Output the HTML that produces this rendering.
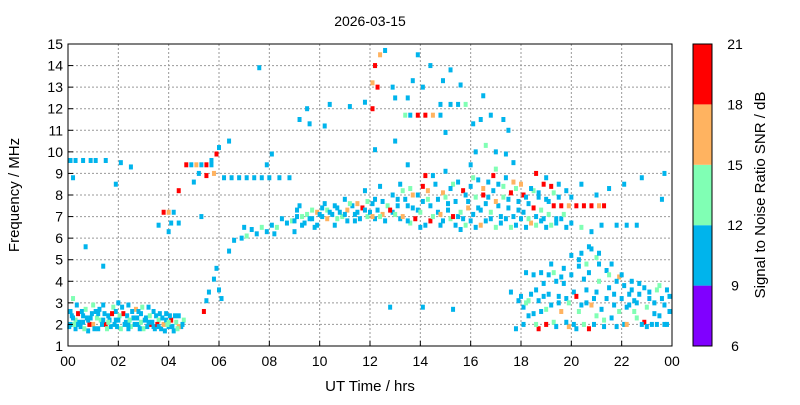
<!DOCTYPE html>
<html><head><meta charset="utf-8"><style>
body{margin:0;background:#fff;font-family:"Liberation Sans",sans-serif}
svg text{font-family:"Liberation Sans",sans-serif;fill:#000}
</style></head><body>
<svg id="c" width="800" height="400" xmlns="http://www.w3.org/2000/svg">
<rect width="800" height="400" fill="#fff"/>
<text x="370" y="26" font-size="14" text-anchor="middle">2026-03-15</text>
<g id="grid"></g><g id="marks"></g><g id="axes"></g>
<text x="370" y="391" font-size="15" text-anchor="middle">UT Time / hrs</text>
<text transform="translate(19,195) rotate(-90)" font-size="15" text-anchor="middle">Frequency / MHz</text>
<g id="cbar"></g>
<text transform="translate(765,195) rotate(-90)" font-size="15" text-anchor="middle">Signal to Noise Ratio SNR / dB</text>
</svg>
<script>
const xTicks=["00","02","04","06","08","10","12","14","16","18","20","22","00"];
const yTicks=[1,2,3,4,5,6,7,8,9,10,11,12,13,14,15];
const cbTicks=[6,9,12,15,18,21];
const cbColors=["#8000ff","#00b4ec","#80ffb4","#ffb360","#ff0000"];
// observations: "time_hrs freq_MHz snr_dB"
const obs=`0.1 2.0 10;0.1 2.6 11;0.2 3.2 13;0.3 1.8 10;0.3 2.2 12;0.4 2.5 19;0.5 1.9 11;0.6 2.1 10;0.7 2.7 13;0.8 1.7 11;0.9 2.3 10;1.0 2.0 16;1.1 2.6 11;1.2 1.8 10;1.3 2.2 12;1.4 2.9 11;1.5 2.0 19;1.6 2.4 10;1.7 1.9 11;1.8 2.8 13;1.9 2.2 10;2.0 3.0 11;2.1 1.8 12;2.2 2.5 19;2.3 2.1 10;2.4 2.9 11;2.5 1.9 13;2.6 2.3 10;2.7 2.7 16;2.8 2.0 11;2.9 2.5 10;3.0 1.8 12;3.1 2.3 11;3.2 2.8 10;3.3 2.0 19;3.4 1.9 11;3.5 2.4 10;3.6 2.2 13;3.7 1.8 11;3.8 2.0 16;3.9 2.5 10;4.0 1.9 11;4.1 2.2 19;4.2 1.7 10;4.3 2.1 13;4.4 2.4 11;4.5 1.9 10;4.6 2.2 12;0.2 2.3 11;0.6 2.4 10;1.0 2.9 12;1.4 2.2 11;1.9 2.6 10;2.4 2.0 11;2.9 2.1 12;3.4 2.6 11;3.9 2.2 10;4.4 1.9 16;0.1 9.6 10;0.3 9.6 11;0.6 9.6 10;0.9 9.6 10;1.1 9.6 11;1.5 9.6 10;2.1 9.5 10;2.5 9.3 11;0.2 8.8 10;0.7 5.6 10;1.4 4.7 11;1.9 8.5 10;3.6 6.6 10;3.8 7.2 19;4.0 7.2 16;4.2 7.2 10;4.1 6.7 11;4.4 6.7 10;4.0 6.3 11;4.4 8.2 19;4.7 9.4 19;4.9 9.4 11;5.1 9.4 16;5.3 9.4 10;5.5 9.4 19;5.2 9.0 11;5.5 8.9 19;5.8 9.0 16;5.7 9.4 11;5.9 9.9 19;6.0 10.2 10;6.4 10.5 11;5.0 8.6 11;5.3 7.0 10;5.5 3.1 11;5.4 2.6 19;5.6 3.5 10;5.8 4.1 11;6.0 3.6 10;5.9 4.6 11;6.1 3.2 10;5.7 9.6 10;6.2 8.8 11;6.5 8.8 10;6.8 8.8 11;7.1 8.8 10;7.4 8.8 11;7.7 8.8 10;8.0 8.8 11;8.4 8.8 10;8.8 8.8 11;7.6 13.9 10;7.9 9.4 11;8.1 9.9 10;6.4 5.4 11;6.6 5.9 10;6.9 6.0 11;7.1 6.1 13;7.3 6.4 10;7.5 6.2 11;7.7 6.5 13;7.9 6.3 10;8.1 6.6 11;8.3 6.5 13;8.5 6.9 10;8.7 6.7 11;8.9 6.8 13;9.1 7.0 10;9.3 6.6 11;9.5 7.1 13;9.7 6.9 10;9.9 7.2 16;10.1 7.0 11;10.3 7.3 13;10.5 7.1 10;10.7 7.4 11;10.9 7.0 13;11.1 7.3 16;11.3 7.5 10;11.5 7.2 11;11.7 7.4 19;11.9 7.0 13;12.1 7.6 10;12.3 7.3 11;12.5 7.1 16;12.7 7.5 13;12.9 7.2 10;7.0 6.5 10;8.2 6.2 11;9.0 6.3 10;9.8 6.5 11;10.6 6.6 10;11.4 6.8 11;12.2 6.9 10;9.2 7.5 11;10.2 7.6 10;11.0 7.8 11;11.8 8.2 10;12.4 8.4 11;9.2 11.5 10;9.6 11.3 11;10.2 11.2 10;9.5 12.0 11;10.4 12.2 10;11.2 12.1 11;11.8 12.3 10;12.1 12.0 19;12.1 13.2 16;12.2 14.0 19;12.4 14.5 16;12.6 14.7 11;12.9 13.0 10;13.0 12.5 11;12.3 13.0 19;13.4 11.7 13;13.6 11.7 11;13.9 11.7 19;14.2 11.7 19;14.5 11.7 16;14.8 11.7 11;13.5 12.5 10;13.7 13.3 11;14.1 13.0 10;14.8 12.2 11;15.2 12.2 10;15.5 12.2 11;15.8 12.2 13;14.9 13.3 11;15.2 13.8 10;15.6 13.1 11;16.1 11.3 10;16.4 11.5 11;16.8 11.7 10;17.3 11.5 11;17.5 11.0 10;16.2 10.0 11;16.6 10.3 13;17.0 10.0 10;17.4 9.9 11;17.7 9.5 10;13.1 7.8 11;13.3 8.2 13;13.5 7.5 10;13.7 8.0 16;13.9 7.3 11;14.1 8.4 19;14.3 7.8 13;14.5 8.9 10;14.7 7.2 11;14.9 8.1 16;15.1 7.6 10;15.3 8.5 13;15.5 7.0 11;15.7 8.2 19;15.9 7.7 10;16.1 8.8 13;16.3 7.4 11;16.5 8.3 16;16.7 7.9 10;16.9 8.9 19;17.1 7.5 11;17.3 8.4 13;17.5 7.8 10;17.7 8.6 16;17.9 7.3 11;18.1 8.0 19;18.3 7.6 10;18.5 8.2 13;18.7 7.9 11;18.9 8.5 19;19.1 7.7 10;19.3 8.1 13;13.2 6.9 11;13.6 6.7 13;14.0 6.5 10;14.4 6.8 19;14.8 6.6 11;15.2 6.9 13;15.6 6.4 10;16.0 6.8 11;16.4 6.6 16;16.8 6.9 10;17.2 6.7 11;17.6 6.5 13;18.0 6.9 10;18.4 6.7 16;18.8 6.8 11;19.2 6.6 13;19.6 6.9 10;20.0 6.7 11;20.4 6.5 13;20.8 6.3 10;21.2 6.6 11;21.8 6.6 10;22.2 6.6 11;22.6 6.6 10;14.2 8.9 19;15.0 9.1 11;16.0 9.4 10;17.0 9.2 13;18.6 9.0 19;19.0 8.8 11;19.5 8.5 10;20.0 7.9 11;20.4 8.5 10;21.0 8.0 11;21.5 8.3 10;22.1 8.5 10;22.8 8.8 11;23.6 7.8 10;23.7 9.0 10;19.3 7.5 19;19.6 7.5 19;19.9 7.5 16;20.2 7.5 19;20.5 7.5 19;20.8 7.5 19;21.1 7.5 16;21.3 7.5 19;17.6 3.5 11;17.9 3.1 10;18.1 2.0 11;18.3 3.1 13;18.5 2.5 10;18.7 1.8 19;18.9 3.3 11;19.1 4.3 10;19.3 2.1 13;19.5 3.0 11;19.7 4.6 10;19.9 1.9 16;20.1 3.5 11;20.3 2.6 13;20.5 4.1 10;20.7 1.8 19;20.9 3.2 11;21.1 4.8 10;21.3 2.2 13;21.5 3.7 11;21.7 2.9 10;21.9 4.2 16;22.1 2.0 11;22.3 3.4 10;22.5 2.6 13;22.7 3.9 11;22.9 2.1 19;23.1 3.2 10;23.3 2.5 11;23.5 3.8 13;23.7 2.9 10;23.9 3.3 11;18.2 4.4 10;18.6 3.6 11;19.0 2.7 13;19.4 4.0 11;19.8 3.2 10;20.2 1.8 11;20.6 3.0 10;21.0 2.4 13;21.4 4.5 10;21.8 1.9 11;22.2 2.8 10;22.6 3.0 11;23.0 1.9 10;23.4 2.0 11;23.8 2.0 10;20.4 5.3 10;20.8 5.5 11;21.0 5.1 13;19.6 4.2 11;18.8 4.4 10;17.8 1.8 10;12.8 2.8 10;14.1 2.8 11;15.3 2.7 10;13.5 9.4 10;12.2 10.1 11;13.0 10.5 10;15.0 10.9 11;16.5 12.6 10;14.4 14.0 10;13.9 14.5 11`;
const obs2=`0.05 1.9 11;0.15 2.4 10;0.25 2.0 13;0.35 2.9 11;0.45 2.1 10;0.55 2.6 11;0.65 1.8 13;0.75 2.3 10;0.85 2.0 19;0.95 2.5 11;1.05 1.8 10;1.15 2.3 13;1.25 2.7 11;1.35 2.0 10;1.45 2.5 11;1.55 1.8 13;1.65 2.2 10;1.75 2.5 19;1.85 2.0 11;1.95 1.9 10;2.05 2.4 13;2.15 2.8 11;2.25 2.0 10;2.35 2.4 11;2.45 2.2 13;2.55 2.6 10;2.65 2.0 11;2.75 2.3 10;2.85 1.8 11;2.95 2.8 13;3.05 2.2 10;3.15 1.9 11;3.25 2.4 13;3.35 2.1 10;3.45 1.8 11;3.55 2.0 19;3.65 2.5 10;3.75 2.3 11;3.85 1.7 10;3.95 2.0 13;4.05 2.4 11;4.15 1.9 10;4.25 2.4 11;4.35 1.8 13;4.55 2.0 10;0.4 2.0 10;0.8 2.2 11;1.2 2.5 10;1.6 2.1 13;2.0 2.2 11;2.4 1.8 10;2.8 2.6 11;3.2 2.1 10;3.6 1.9 11;4.0 2.1 13;
9.0 6.8 10;9.1 7.3 11;9.3 7.0 13;9.4 6.7 10;9.6 6.9 11;9.7 7.3 13;9.9 6.6 10;10.0 7.1 11;10.1 7.4 10;10.3 6.9 16;10.4 7.2 11;10.6 7.5 10;10.7 6.9 13;10.8 7.2 11;11.0 7.1 10;11.1 6.8 11;11.2 7.6 13;11.4 7.1 10;11.5 7.6 16;11.6 6.9 11;11.8 7.3 10;11.9 7.7 13;12.0 7.2 11;12.1 7.0 16;12.2 7.8 10;12.4 7.0 13;12.5 7.7 11;12.6 6.8 10;12.8 7.3 19;12.9 8.0 11;13.0 7.1 13;13.1 7.5 10;13.2 8.5 11;13.3 7.0 16;13.4 7.8 10;13.5 6.8 11;13.6 8.3 13;13.7 7.4 10;13.8 6.9 19;13.9 8.0 11;14.0 7.2 13;14.1 7.7 10;14.2 6.6 11;14.3 8.2 16;14.4 7.5 10;14.5 7.0 13;14.6 8.5 11;14.7 7.8 10;14.8 7.1 16;14.9 6.8 11;15.0 7.9 13;15.1 7.3 10;15.2 8.3 11;15.3 7.0 19;15.4 7.7 10;15.5 8.6 11;15.6 7.2 13;15.7 6.9 10;15.8 8.0 11;15.9 7.4 16;16.0 8.4 10;16.1 7.1 11;16.2 7.9 13;16.3 8.7 10;16.4 7.3 11;16.5 8.0 19;16.6 7.6 10;16.7 8.6 11;16.8 7.2 13;16.9 8.2 10;17.0 7.7 16;17.1 8.5 11;17.2 7.0 10;17.3 7.9 13;17.4 8.8 11;17.5 7.4 10;17.6 8.1 19;17.7 7.0 11;17.8 8.3 13;17.9 7.7 10;18.0 8.5 16;18.1 7.2 11;18.2 7.9 10;18.3 6.9 13;18.4 8.3 11;18.5 7.4 19;18.6 7.0 10;18.7 8.1 11;18.8 7.3 13;18.9 6.9 10;19.0 7.8 11;19.1 7.1 13;19.2 8.4 19;19.4 6.9 10;19.5 7.9 11;19.7 7.1 13;19.8 8.2 10;15.4 6.6 11;15.8 6.6 13;16.2 6.5 10;16.6 6.8 11;17.0 6.5 13;17.4 6.9 10;17.8 6.6 11;18.2 6.5 10;18.6 6.6 13;19.0 6.5 11;19.4 6.7 10;19.8 6.5 11;
18.0 3.3 10;18.1 2.8 11;18.2 3.0 13;18.3 2.4 10;18.4 3.4 11;18.5 4.3 10;18.6 2.0 13;18.7 3.1 11;18.8 2.6 10;18.9 3.9 11;19.0 2.0 19;19.1 3.4 10;19.2 2.9 11;19.3 4.4 13;19.4 1.9 10;19.5 3.3 11;19.6 2.6 16;19.7 3.9 10;19.8 2.1 11;19.9 3.0 13;20.0 4.3 11;20.1 2.0 10;20.2 3.3 19;20.3 4.7 11;20.4 2.9 10;20.5 2.0 13;20.6 3.6 11;20.7 4.4 10;20.8 2.9 16;20.9 2.0 11;21.0 3.5 10;21.1 4.0 13;21.2 2.7 11;21.3 1.9 10;21.4 3.2 11;21.5 4.3 13;21.6 2.3 10;21.7 3.4 11;21.8 4.0 10;21.9 2.6 13;22.0 3.2 11;22.1 3.8 10;22.2 2.0 16;22.3 2.9 11;22.4 3.6 10;22.5 3.1 11;22.6 2.3 13;22.7 3.4 10;22.8 2.0 11;22.9 3.7 10;23.0 2.8 13;23.1 3.5 11;23.2 2.0 10;23.3 3.0 11;23.4 3.6 13;23.5 2.4 10;23.6 3.2 11;23.7 2.0 10;23.8 3.6 11;23.9 2.6 10;20.0 5.2 11;20.3 5.0 10;20.6 4.8 13;21.1 5.3 11;20.7 5.6 10;19.2 4.8 11;21.6 4.8 10;22.0 4.3 11;22.4 4.0 10`;
const pts=(obs+";"+obs2).split(";").map(s=>s.trim().split(/\s+/).map(Number));
const X0=68,X1=672,Y0=346,Y1=44;
const xs=t=>X0+t*(X1-X0)/24;
const ys=f=>Y0-(f-1)*(Y0-Y1)/14;
const cy=v=>Y0-(v-6)*(Y0-Y1)/15;
const NS="http://www.w3.org/2000/svg";
function mk(tag,a,parent){const e=document.createElementNS(NS,tag);for(const k in a)e.setAttribute(k,a[k]);document.getElementById(parent).appendChild(e);return e;}
function col(v){const i=Math.min(4,Math.max(0,Math.floor((v-6)/3)));return cbColors[i];}
xTicks.forEach((l,i)=>{const x=xs(i*2);
 if(i>0&&i<12){const g=mk("line",{x1:x,x2:x,y1:Y1,y2:Y0,stroke:"#999","stroke-dasharray":"2,2"},"grid");}
 const t=mk("line",{x1:x,x2:x,y1:Y0,y2:Y0-5,stroke:"#000"},"axes");
 const tx=mk("text",{x:x,y:Y0+20,"font-size":14,"text-anchor":"middle"},"axes");tx.textContent=l;
 
 });
yTicks.forEach(v=>{const y=ys(v);
 if(v>1&&v<15){const g=mk("line",{x1:X0,x2:X1,y1:y,y2:y,stroke:"#999","stroke-dasharray":"2,2"},"grid");}
 const t=mk("line",{x1:X0,x2:X0+5,y1:y,y2:y,stroke:"#000"},"axes");
 const tx=mk("text",{x:X0-5,y:y+5,"font-size":14,"text-anchor":"end"},"axes");tx.textContent=v;
 
 });
const fr=mk("rect",{x:X0,y:Y1,width:X1-X0,height:Y0-Y1,fill:"none",stroke:"#000"},"axes");


pts.forEach(p=>{const r=mk("rect",{x:xs(p[0])-2,y:ys(p[1])-2.5,width:4,height:5,fill:col(p[2])},"marks");
 
 });
cbColors.forEach((c,i)=>{const r=mk("rect",{x:693,y:cy(6+3*(i+1)),width:19,height:cy(6)-cy(9),fill:c},"cbar");
 
 });
const cf=mk("rect",{x:693,y:Y1,width:19,height:Y0-Y1,fill:"none",stroke:"#000"},"cbar");


cbTicks.forEach(v=>{const y=cy(v);
 const tx=mk("text",{x:735,y:y+5,"font-size":14,"text-anchor":"middle"},"cbar");tx.textContent=v;
 
 });
</script>
</body></html>
